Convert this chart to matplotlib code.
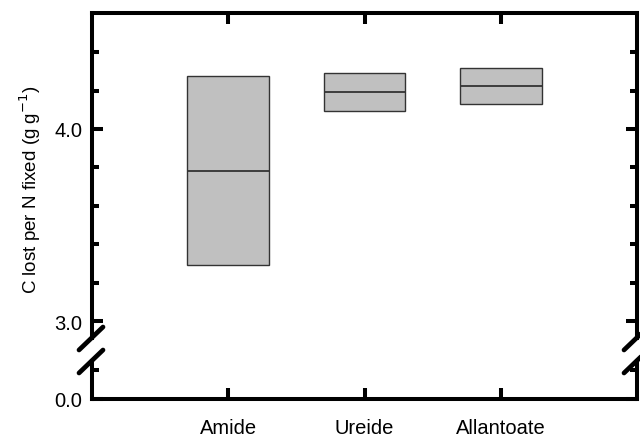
import matplotlib
matplotlib.use("Agg")
import matplotlib.pyplot as plt
from matplotlib.lines import Line2D
import numpy as np

categories = ["Amide", "Ureide", "Allantoate"]
low = [3.29, 4.095, 4.128]
median = [3.78, 4.19, 4.222]
high = [4.276, 4.29, 4.318]

plt.rcParams["font.family"] = ["Liberation Sans", "DejaVu Sans"]
plt.rcParams["font.size"] = 14.5

W, H = 640, 439
fig = plt.figure(figsize=(W / 100, H / 100), dpi=100)

def px_axes(left, right, top, bottom):
	return fig.add_axes([left / W, 1 - bottom / H, (right - left) / W, (bottom - top) / H])

ax = px_axes(92, 637, 14, 339)
axb = px_axes(92, 637, 362, 400)

x = np.arange(1, len(categories) + 1)
ax.bar(x, np.array(high) - np.array(low), bottom=low, width=0.6,
	color="#c0c0c0", edgecolor="#333333", linewidth=1.0, zorder=2)
ax.hlines(median, x - 0.3, x + 0.3, color="#333333", linewidth=1.3, zorder=3)

for a in (ax, axb):
	a.set_xlim(0, 4)
	for s in a.spines.values():
		s.set_linewidth(2.9)
	a.tick_params(which="major", direction="in", length=8, width=2.9)
	a.tick_params(which="minor", direction="in", length=5, width=2.9)

ax.set_ylim(2.9115, 4.604)
ax.spines["bottom"].set_visible(False)
ax.set_yticks([3.0, 4.0])
ax.set_yticklabels(["3.0", "4.0"])
ax.set_yticks(np.arange(3.2, 4.6, 0.2), minor=True)
ax.set_xticks(x)
ax.tick_params(axis="x", bottom=False, top=True, labelbottom=False)
ax.tick_params(axis="y", which="both", left=True, right=True, pad=7)

fig.text(30 / W, 1 - 190 / H, "C lost per N fixed (g g$^{-1}$)", rotation=90,
	ha="center", va="center", fontsize=13.5)

axb.set_ylim(0, 0.198)
axb.spines["top"].set_visible(False)
axb.set_yticks([0.0])
axb.set_yticklabels(["0.0"])
axb.set_yticks([0.15], minor=True)
axb.set_xticks(x)
axb.set_xticklabels(categories)
axb.tick_params(axis="x", top=False, bottom=True, pad=14)
axb.tick_params(axis="y", which="both", left=True, right=True, pad=7)

# axis break marks
for xs in (92, 637):
	for ys in (339, 362):
		fig.add_artist(Line2D([(xs - 13) / W, (xs + 11) / W],
			[1 - (ys + 12) / H, 1 - (ys - 11) / H],
			color="black", linewidth=3.4, solid_capstyle="round"))

fig.savefig("out.png", dpi=100)
